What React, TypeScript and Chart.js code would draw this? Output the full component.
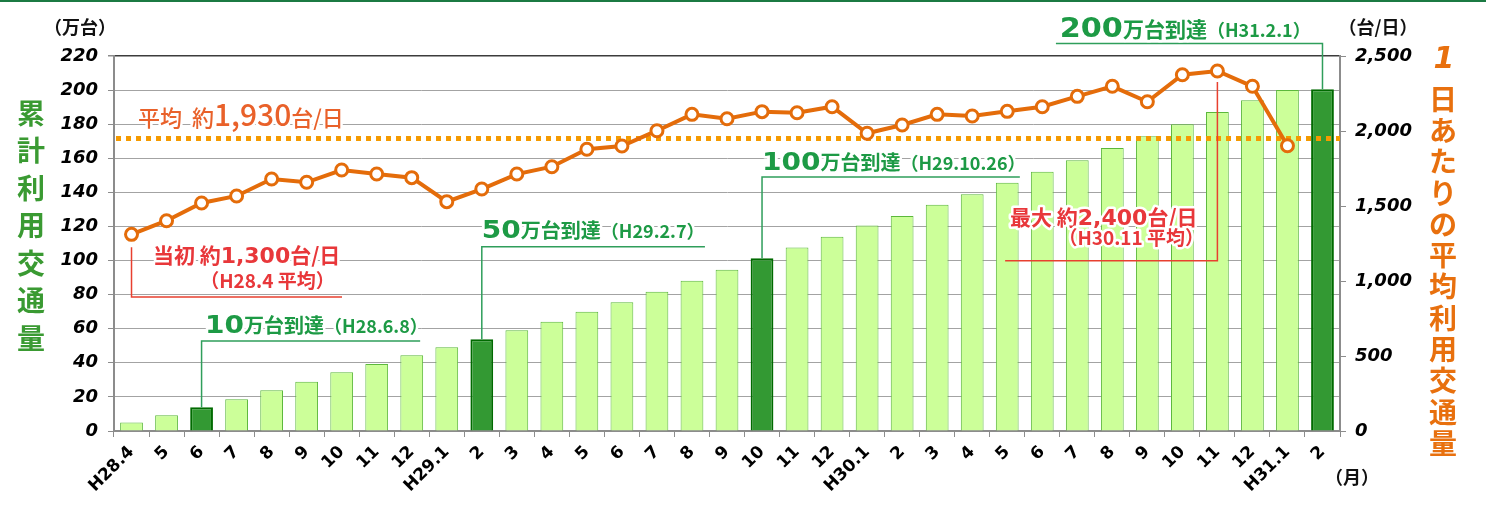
import React, { useEffect, useRef } from 'react';
import { Chart, registerables } from 'chart.js';

Chart.register(...registerables);

// ---------------- data ----------------
const MONTH_LABELS = [
  'H28.4', '5', '6', '7', '8', '9', '10', '11', '12',
  'H29.1', '2', '3', '4', '5', '6', '7', '8', '9', '10', '11', '12',
  'H30.1', '2', '3', '4', '5', '6', '7', '8', '9', '10', '11', '12',
  'H31.1', '2',
];

// cumulative traffic (万台)
const CUMULATIVE = [
  5.0, 9.2, 13.9, 18.6, 23.9, 28.9, 34.4, 39.3, 44.4,
  49.1, 53.8, 59.1, 64.1, 70.0, 75.5, 81.7, 88.2, 94.6, 101.3, 107.6, 114.0,
  120.5, 126.1, 132.8, 138.9, 145.7, 152.1, 158.8, 166.0, 172.9, 179.9, 187.1, 194.0,
  200.1, 200.5,
];

// average daily traffic (台/日)
const DAILY: (number | null)[] = [
  1311, 1402, 1520, 1567, 1680, 1658, 1740, 1713, 1689,
  1529, 1613, 1713, 1762, 1878, 1900, 2002, 2111, 2082, 2129, 2122, 2162,
  1985, 2040, 2111, 2100, 2131, 2162, 2231, 2298, 2195, 2375, 2400, 2298,
  1902, null,
];

const MILESTONE_INDEX = [2, 10, 18, 34];
const LEFT_MAX = 220;
const LEFT_STEP = 20;
const RIGHT_MAX = 2500;
const RIGHT_STEP = 500;
const AVERAGE_LINE = 1950;

const LEFT_TITLE = '累計利用交通量';
const RIGHT_TITLE = ['1', '日', 'あ', 'た', 'り', 'の', '平', '均', '利', '用', '交', '通', '量'];

const JP = '"Noto Sans CJK JP", sans-serif';
const DV = '"DejaVu Sans", sans-serif';

type Part = { t: string; f: string; sx?: number };

function drawParts(
  ctx: CanvasRenderingContext2D,
  parts: Part[],
  x: number,
  y: number,
  align: 'left' | 'right',
  fill: string,
  halo = 5,
) {
  ctx.save();
  ctx.textAlign = 'left';
  ctx.textBaseline = 'alphabetic';
  const widths = parts.map((p) => {
    ctx.font = p.f;
    return ctx.measureText(p.t).width * (p.sx ?? 1);
  });
  const total = widths.reduce((a, b) => a + b, 0);
  const start = align === 'right' ? x - total : x;
  for (const pass of ['stroke', 'fill']) {
    let cx = start;
    parts.forEach((p, i) => {
      ctx.save();
      ctx.font = p.f;
      ctx.translate(cx, y);
      ctx.scale(p.sx ?? 1, 1);
      if (pass === 'stroke') {
        ctx.strokeStyle = '#ffffff';
        ctx.lineWidth = halo;
        ctx.lineJoin = 'round';
        ctx.strokeText(p.t, 0, 0);
      } else {
        ctx.fillStyle = fill;
        ctx.fillText(p.t, 0, 0);
      }
      ctx.restore();
      cx += widths[i];
    });
  }
  ctx.restore();
}

const annotationPlugin = {
  id: 'customAnnotations',
  beforeDatasetDraw(chart: any, args: any) {
    if (args.index !== 1) return;
    const { ctx, chartArea } = chart;
    const y = chart.scales.y1.getPixelForValue(AVERAGE_LINE);
    ctx.save();
    ctx.strokeStyle = '#f59a00';
    ctx.lineWidth = 5;
    ctx.setLineDash([5, 5]);
    ctx.beginPath();
    ctx.moveTo(chartArea.left + 2, y);
    ctx.lineTo(chartArea.right, y);
    ctx.stroke();
    ctx.restore();
  },
  afterDraw(chart: any) {
    const { ctx, width } = chart;
    const xs = chart.scales.x;
    const ys = chart.scales.y;
    const yr = chart.scales.y1;
    const step = xs.getPixelForValue(1) - xs.getPixelForValue(0);
    const X = (c: number) => xs.getPixelForValue(0) + c * step;
    const YL = (v: number) => ys.getPixelForValue(v);
    const YR = (v: number) => yr.getPixelForValue(v);

    ctx.save();
    // page top rule
    ctx.fillStyle = '#1b7a43';
    ctx.fillRect(0, 0, width, 2);

    // unit labels
    ctx.fillStyle = '#111';
    ctx.font = `bold 18px ${JP}`;
    ctx.textBaseline = 'middle';
    ctx.textAlign = 'center';
    ctx.fillText('（万台）', 80, 27);
    ctx.fillText('（台/日）', 1378, 27);
    ctx.fillText('（月）', 1352, 477);

    // vertical titles
    ctx.fillStyle = '#3a9a32';
    ctx.font = `bold 28px ${JP}`;
    [...LEFT_TITLE].forEach((ch, i) => ctx.fillText(ch, 31, 113 + i * 37.5));
    ctx.fillStyle = '#e8700e';
    RIGHT_TITLE.forEach((ch, i) => {
      if (i === 0) {
        ctx.font = `bold italic 30px ${DV}`;
        ctx.fillText(ch, 1444, 60);
      } else {
        ctx.font = `bold 28px ${JP}`;
        ctx.fillText(ch, 1443, 99 + (i - 1) * 31.3);
      }
    });
    ctx.restore();

    // ----- red callouts -----
    ctx.save();
    ctx.strokeStyle = '#e8402f';
    ctx.lineWidth = 1.5;
    ctx.beginPath();
    const p0x = X(0);
    ctx.moveTo(p0x, YR(DAILY[0] as number) + 13);
    ctx.lineTo(p0x, YL(78.6));
    ctx.lineTo(X(6.01), YL(78.6));
    const pmx = X(31);
    ctx.moveTo(pmx, YR(DAILY[31] as number) + 11);
    ctx.lineTo(pmx, YL(99.9));
    ctx.lineTo(X(24.94), YL(99.9));
    ctx.stroke();
    ctx.restore();

    const red = '#e8373a';
    drawParts(ctx, [
      { t: '当初 ', f: `bold 21px ${JP}` },
      { t: '約', f: `bold 21px ${JP}` },
      { t: '1,300', f: `bold 22px ${DV}` },
      { t: '台/日', f: `bold 21px ${JP}` },
    ], X(0.61), YL(98.6), 'left', red);
    drawParts(ctx, [{ t: '（H28.4 平均）', f: `bold 19px ${JP}` }], X(5.8), YL(83.9), 'right', red);

    drawParts(ctx, [
      { t: '最大 ', f: `bold 21px ${JP}` },
      { t: '約', f: `bold 21px ${JP}` },
      { t: '2,400', f: `bold 22px ${DV}` },
      { t: '台/日', f: `bold 21px ${JP}` },
    ], X(25.08), YL(120.9), 'left', red);
    drawParts(ctx, [{ t: '（H30.11 平均）', f: `bold 19px ${JP}` }], X(30.62), YL(109.1), 'right', red);

    // average label
    drawParts(ctx, [
      { t: '平均  約', f: `500 22px ${JP}` },
      { t: '1,930', f: `500 30px ${JP}` },
      { t: '台/日', f: `500 22px ${JP}` },
    ], X(0.185), YL(178.9), 'left', '#e9612a', 5);

    // ----- green milestones -----
    const green = '#1d9a45';
    const milestones = [
      { i: 2, num: '10', date: '（H28.6.8）', elbow: 52.8, end: 8.24, tx: 2.1, base: 57.5, big: 0 },
      { i: 10, num: '50', date: '（H29.2.7）', elbow: 108.1, end: 16.37, tx: 10.0, base: 113.2, big: 0 },
      { i: 18, num: '100', date: '（H29.10.26）', elbow: 149.0, end: 25.36, tx: 18.0, base: 153.1, big: 0 },
      { i: 34, num: '200', date: '（H31.2.1）', elbow: 227.3, end: 26.39, tx: 26.5, base: 231.1, big: 1 },
    ];
    milestones.forEach((m) => {
      ctx.save();
      ctx.strokeStyle = '#2f9e5b';
      ctx.lineWidth = 1.5;
      ctx.beginPath();
      ctx.moveTo(X(m.i), YL(CUMULATIVE[m.i]));
      ctx.lineTo(X(m.i), YL(m.elbow));
      ctx.lineTo(X(m.end), YL(m.elbow));
      ctx.stroke();
      ctx.restore();
      const k = m.big ? 1.06 : 1;
      drawParts(ctx, [
        { t: m.num, f: `bold ${Math.round(25 * k)}px ${DV}`, sx: 1.12 },
        { t: '万台到達', f: `bold ${Math.round(20 * k)}px ${JP}` },
        { t: m.date, f: `bold 18px ${JP}` },
      ], X(m.tx), YL(m.base), 'left', green, 5);
    });
  },
};

export default function App() {
  const ref = useRef<HTMLCanvasElement>(null);
  useEffect(() => {
    document.body.style.margin = '0';
    const canvas = ref.current!;
    const chart = new Chart(canvas, {
      type: 'bar',
      data: {
        labels: MONTH_LABELS,
        datasets: [
          {
            type: 'bar',
            label: '累計利用交通量',
            data: CUMULATIVE,
            yAxisID: 'y',
            order: 2,
            backgroundColor: CUMULATIVE.map((_, i) => (MILESTONE_INDEX.includes(i) ? '#339933' : '#ccff99')),
            borderColor: CUMULATIVE.map((_, i) => (MILESTONE_INDEX.includes(i) ? '#006a00' : '#5cb83c')),
            borderWidth: CUMULATIVE.map((_, i) => (MILESTONE_INDEX.includes(i) ? 2 : 1)),
            barPercentage: 0.65,
            categoryPercentage: 1,
          },
          {
            type: 'line',
            label: '1日あたりの平均利用交通量',
            data: DAILY,
            yAxisID: 'y1',
            order: 1,
            borderColor: '#e46c0a',
            borderWidth: 4,
            pointRadius: 6,
            pointBorderWidth: 3,
            pointBackgroundColor: '#ffffff',
            pointBorderColor: '#e46c0a',
            tension: 0,
          },
        ],
      } as any,
      options: {
        responsive: false,
        animation: false,
        devicePixelRatio: 1,
        layout: { padding: { top: 56, left: 0, right: 0, bottom: 0 } },
        plugins: { legend: { display: false }, tooltip: { enabled: false }, title: { display: false } },
        scales: {
          x: {
            offset: true,
            grid: { drawOnChartArea: false, drawTicks: true, tickLength: 6, offset: true, color: '#8c8c8c' },
            border: { display: true, color: '#8c8c8c', width: 2 },
            ticks: {
              autoSkip: false,
              maxRotation: 45,
              minRotation: 45,
              padding: 5,
              color: '#000',
              font: { family: '"DejaVu Sans", sans-serif', weight: 'bold', size: 17 },
            },
            afterFit: (s: any) => { s.height = 76; },
          },
          y: {
            position: 'left',
            min: 0,
            max: LEFT_MAX,
            ticks: {
              stepSize: LEFT_STEP,
              padding: 10,
              color: '#000',
              font: { family: '"DejaVu Sans", sans-serif', weight: 'bold', style: 'italic', size: 18 },
            },
            grid: {
              color: (c: any) => (c.tick && c.tick.value === LEFT_MAX ? '#3c3c3c' : '#a3a3a3'),
              lineWidth: (c: any) => (c.tick && c.tick.value === LEFT_MAX ? 1.5 : 1),
              tickColor: '#8c8c8c',
              tickLength: 6,
            },
            border: { display: true, color: '#8c8c8c', width: 2 },
            afterFit: (s: any) => { s.width = 114; },
          },
          y1: {
            position: 'right',
            min: 0,
            max: RIGHT_MAX,
            ticks: {
              stepSize: RIGHT_STEP,
              padding: 9,
              color: '#000',
              font: { family: '"DejaVu Sans", sans-serif', weight: 'bold', style: 'italic', size: 18 },
              callback: (v: any) => Number(v).toLocaleString('en-US'),
            },
            grid: { drawOnChartArea: false, tickColor: '#8c8c8c', tickLength: 6 },
            border: { display: true, color: '#8c8c8c', width: 2 },
            afterFit: (s: any) => { s.width = 146; },
          },
        },
      } as any,
      plugins: [annotationPlugin],
    });
    return () => chart.destroy();
  }, []);
  return (
    <div style={{ width: 1486, height: 507, position: 'relative', background: '#fff' }}>
      <canvas ref={ref} width={1486} height={507} style={{ display: 'block' }} />
    </div>
  );
}
